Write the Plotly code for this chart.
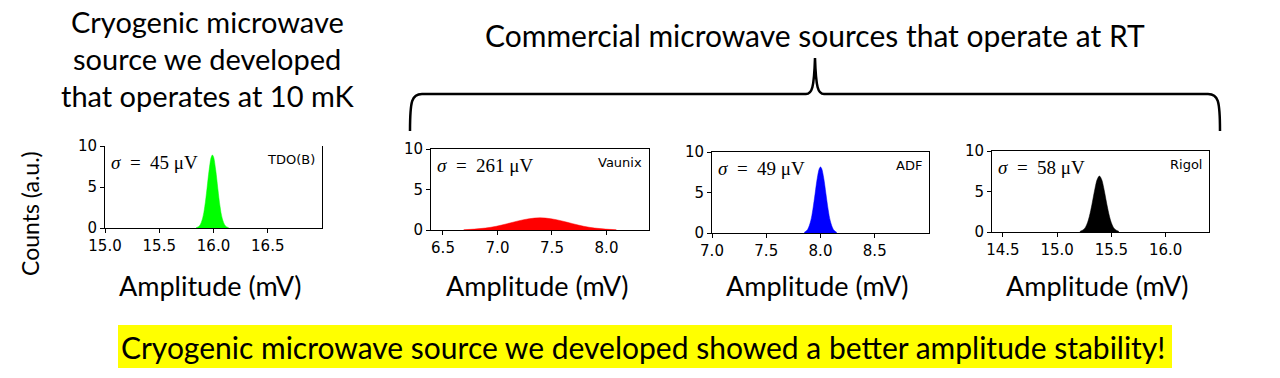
import plotly.graph_objects as go

W, H = 1280, 378

# ---------------- data ----------------
names = ["TDO(B)", "Vaunix", "ADF", "Rigol"]
sigma_labels = ["45", "261", "49", "58"]
colors = ["#00ff00", "#ff0000", "#0000ff", "#000000"]

x_ranges = [[15.0, 17.0], [6.39, 8.39], [7.0, 9.0], [14.40, 16.40]]
x_ticks = [[15.0, 15.5, 16.0, 16.5], [6.5, 7.0, 7.5, 8.0], [7.0, 7.5, 8.0, 8.5], [14.5, 15.0, 15.5, 16.0]]
y_ticks = [0, 5, 10]

tdo_x = [15.84, 15.87, 15.90, 15.92, 15.94, 15.96, 15.98, 15.99, 16.00, 16.02, 16.04, 16.06, 16.08, 16.11, 16.14]
tdo_y = [0.03, 0.25, 1.2, 2.65, 4.8, 7.1, 8.68, 8.9, 8.68, 7.1, 4.8, 2.65, 1.2, 0.25, 0.03]

vaunix_x = [6.69, 6.79, 6.89, 6.99, 7.09, 7.19, 7.29, 7.39, 7.49, 7.59, 7.69, 7.79, 7.89, 7.99, 8.09]
vaunix_y = [0.04, 0.11, 0.24, 0.46, 0.78, 1.12, 1.39, 1.50, 1.39, 1.12, 0.78, 0.46, 0.24, 0.11, 0.04]

adf_x = [7.85, 7.88, 7.91, 7.93, 7.95, 7.97, 7.99, 8.00, 8.01, 8.03, 8.05, 8.07, 8.09, 8.12, 8.15]
adf_y = [0.07, 0.41, 1.5, 2.94, 4.84, 6.76, 7.98, 8.15, 7.98, 6.76, 4.84, 2.94, 1.5, 0.41, 0.07]

rigol_x = [15.21, 15.25, 15.28, 15.31, 15.33, 15.35, 15.37, 15.39, 15.41, 15.43, 15.45, 15.47, 15.50, 15.53, 15.57]
rigol_y = [0.06, 0.38, 1.14, 2.67, 4.04, 5.44, 6.5, 6.9, 6.5, 5.44, 4.04, 2.67, 1.14, 0.38, 0.06]

series_x = [tdo_x, vaunix_x, adf_x, rigol_x]
series_y = [tdo_y, vaunix_y, adf_y, rigol_y]

# ---------------- layout geometry (pixels) ----------------
boxes = [(105, 322, 146, 228), (431, 649, 149, 230), (712, 929, 152, 233), (992, 1209, 151, 232)]

def px(x):
    return x / W

def py(y):
    return 1 - y / H

fig = go.Figure()
tick_font = dict(family="DejaVu Sans", size=15, color="black")
label_font = "Lato"

for i in range(4):
    ax = "" if i == 0 else str(i + 1)
    fig.add_trace(go.Scatter(
        x=series_x[i], y=series_y[i], mode="lines", fill="tozeroy",
        line=dict(color=colors[i], width=0.5, shape="spline"),
        fillcolor=colors[i], xaxis="x" + ax, yaxis="y" + ax, showlegend=False,
        hoverinfo="skip"))
    l, r, t, b = boxes[i]
    fig.layout["xaxis" + ax] = dict(
        domain=[px(l), px(r)], range=x_ranges[i], anchor="y" + ax, automargin=False,
        tickvals=x_ticks[i], ticktext=["%.1f" % v for v in x_ticks[i]],
        ticks="outside", ticklen=4, tickwidth=1, tickcolor="black",
        showline=True, linecolor="black", linewidth=1, mirror=(i != 0),
        showgrid=False, zeroline=False, tickfont=tick_font, fixedrange=True)
    fig.layout["yaxis" + ax] = dict(
        domain=[py(b), py(t)], range=[0, 10], anchor="x" + ax, automargin=False,
        tickvals=y_ticks, ticktext=[str(v) for v in y_ticks],
        ticks="outside", ticklen=4, tickwidth=1, tickcolor="black",
        showline=True, linecolor="black", linewidth=1, mirror=True,
        showgrid=False, zeroline=False, tickfont=tick_font, fixedrange=True)
    # sigma label
    fig.add_annotation(x=px(l + 4), y=py(t + 16), xref="paper", yref="paper",
                       xanchor="left", yanchor="middle", showarrow=False,
                       text="<i>σ</i>\u2002=\u2002%s μV" % sigma_labels[i],
                       font=dict(family="Liberation Serif", size=19, color="black"))
    # device label
    fig.add_annotation(x=px(r - 5), y=py(t + 13), xref="paper", yref="paper",
                       xanchor="right", yanchor="middle", showarrow=False,
                       text=names[i], font=dict(family="DejaVu Sans", size=13, color="black"))
    # x label
    fig.add_annotation(x=px((l + r) / 2 - 3), y=py(285), xref="paper", yref="paper",
                       xanchor="center", yanchor="middle", showarrow=False,
                       text="Amplitude (mV)", font=dict(family=label_font, size=27, color="black"))

# y label
fig.add_annotation(x=px(30), y=py(214), xref="paper", yref="paper", textangle=-90,
                   xanchor="center", yanchor="middle", showarrow=False,
                   text="Counts (a.u.)", font=dict(family=label_font, size=23, color="black"))

# titles
for txt, yy in [("Cryogenic microwave", 22), ("source we developed", 58), ("that operates at 10 mK", 95)]:
    fig.add_annotation(x=px(207), y=py(yy), xref="paper", yref="paper",
                       xanchor="center", yanchor="middle", showarrow=False,
                       text=txt, font=dict(family=label_font, size=29, color="black"))
fig.add_annotation(x=px(815), y=py(35), xref="paper", yref="paper",
                   xanchor="center", yanchor="middle", showarrow=False,
                   text="Commercial microwave sources that operate at RT",
                   font=dict(family=label_font, size=30, color="black"))

# brace
pts = "M {a},{b} C {c},{d} {e},{f} {g},{h} L {i},{h} C {j},{h} {k},{m} {n},{o} C {p},{m} {q},{h} {s},{h} L {t},{h} C {u},{f} {v},{d} {v},{b}".format(
    a=px(410), b=py(131), c=px(410), d=py(100), e=px(412), f=py(94), g=px(422), h=py(94),
    i=px(806), j=px(812), k=px(814), m=py(88), n=px(815), o=py(58), p=px(816), q=px(818),
    s=px(824), t=px(1208), u=px(1218), v=px(1220))
fig.add_shape(type="path", path=pts, xref="paper", yref="paper",
              line=dict(color="black", width=2.5))

# highlighted conclusion
fig.add_shape(type="rect", xref="paper", yref="paper", x0=px(118), x1=px(1172),
              y0=py(368), y1=py(325), fillcolor="#ffff00", line=dict(width=0), layer="below")
fig.add_annotation(x=px(643), y=py(347), xref="paper", yref="paper",
                   xanchor="center", yanchor="middle", showarrow=False,
                   text="Cryogenic microwave source we developed showed a better amplitude stability!",
                   font=dict(family=label_font, size=30, color="black"))

fig.update_layout(width=W, height=H, margin=dict(l=0, r=0, t=0, b=0, autoexpand=False),
                  paper_bgcolor="white", plot_bgcolor="white")
fig.write_html("out.html", config={"displayModeBar": False, "staticPlot": True},
               post_script="document.body.style.margin='0';document.body.style.overflow='hidden';")
